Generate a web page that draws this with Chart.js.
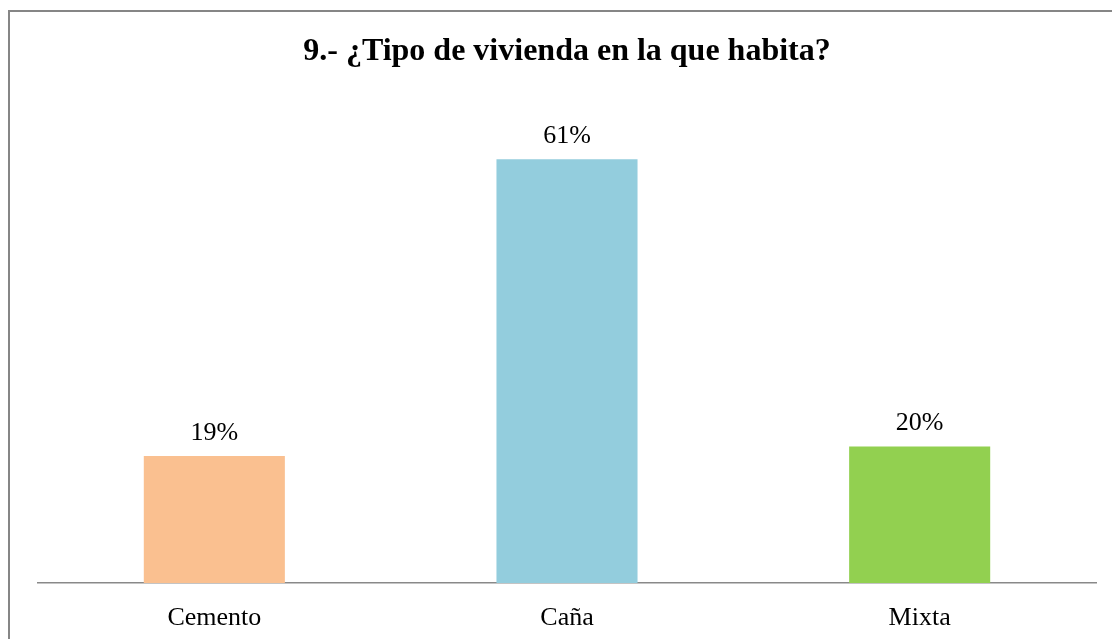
<!DOCTYPE html>
<html>
<head>
<meta charset="utf-8">
<script src="https://cdn.jsdelivr.net/npm/chart.js@4.4.0/dist/chart.umd.min.js"></script>
<style>
  html, body { margin: 0; padding: 0; background: #fff; overflow: hidden; }
  #wrap { position: absolute; left: 0; top: 0; width: 1112px; height: 639px; }
</style>
</head>
<body>
<div id="wrap"><canvas id="c" width="1112" height="639"></canvas></div>
<script>
const titleText = '9.- ¿Tipo de vivienda en la que habita?';
const categories = ['Cemento', 'Caña', 'Mixta'];
const values = [18.4, 61.4, 19.8];
const valueLabels = ['19%', '61%', '20%'];
const barColors = ['#FAC090', '#93CDDD', '#92D050'];

const FONT = "'Liberation Serif', 'Times New Roman', serif";

const frame = {
  id: 'frame',
  beforeDraw(chart) {
    const ctx = chart.ctx;
    ctx.save();
    ctx.fillStyle = '#ffffff';
    ctx.fillRect(0, 0, chart.width, chart.height);
    ctx.strokeStyle = '#868686';
    ctx.lineWidth = 2;
    ctx.strokeRect(9, 11, 1300, 800);
    ctx.restore();
  }
};

const valueLabelPlugin = {
  id: 'valueLabels',
  afterDatasetsDraw(chart) {
    const ctx = chart.ctx;
    const meta = chart.getDatasetMeta(0);
    ctx.save();
    ctx.font = '26px ' + FONT;
    ctx.fillStyle = '#000';
    ctx.textAlign = 'center';
    ctx.textBaseline = 'alphabetic';
    meta.data.forEach((bar, i) => {
      ctx.fillText(valueLabels[i], bar.x, bar.y - 16.5);
    });
    ctx.restore();
  }
};

new Chart(document.getElementById('c'), {
  type: 'bar',
  data: {
    labels: categories,
    datasets: [{
      data: values,
      backgroundColor: barColors,
      borderWidth: 0,
      categoryPercentage: 1.0,
      barPercentage: 0.4
    }]
  },
  options: {
    responsive: false,
    animation: false,
    devicePixelRatio: 1,
    layout: { padding: { left: 38, right: 16, top: 0, bottom: 0 } },
    plugins: {
      legend: { display: false },
      tooltip: { enabled: false },
      title: {
        display: true,
        text: titleText,
        color: '#000',
        font: { family: FONT, size: 32, weight: 'bold', lineHeight: 1.2 },
        padding: { top: 32.3, bottom: 29.3 }
      }
    },
    scales: {
      x: {
        grid: { display: false, drawTicks: false },
        border: { display: true, color: '#898989', width: 1.5 },
        ticks: {
          color: '#000',
          font: { family: FONT, size: 26, lineHeight: 1.2 },
          padding: 19.5,
          maxRotation: 0
        },
        afterFit(scale) { scale.height = 56; }
      },
      y: {
        display: false,
        min: 0,
        max: 70
      }
    }
  },
  plugins: [frame, valueLabelPlugin]
});
</script>
</body>
</html>
